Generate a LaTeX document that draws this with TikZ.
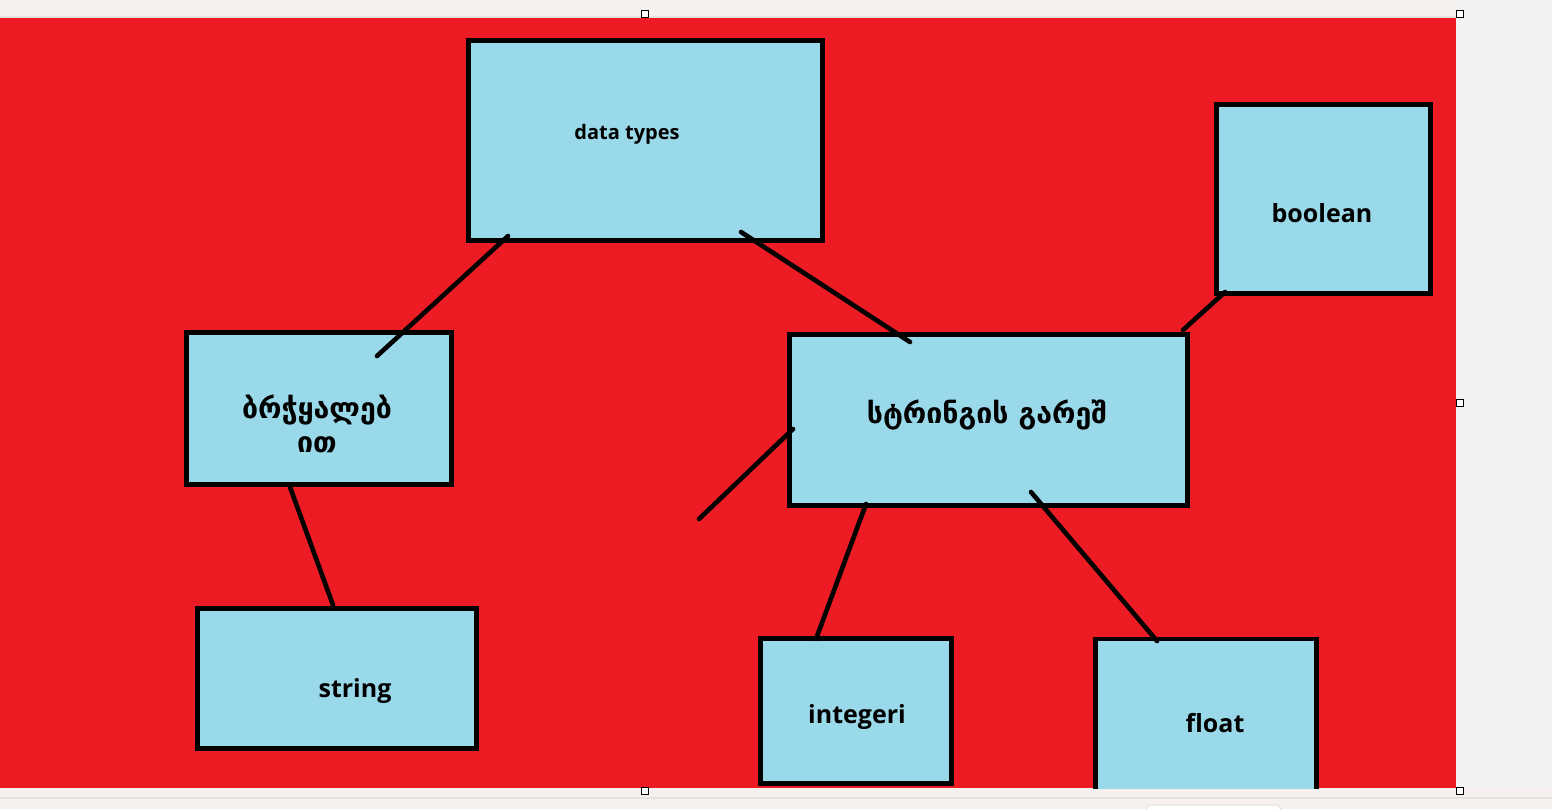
\documentclass[tikz,border=0pt]{standalone}
\usepackage{fontspec}
\setmainfont{Open Sans}
\newfontfamily\geo{DejaVu Sans}
\definecolor{paintred}{HTML}{ED1C24}
\definecolor{paintblue}{HTML}{99D9EA}
\definecolor{outergrey}{HTML}{F2F2F2}
\definecolor{stripgrey}{HTML}{F6F0EE}
\definecolor{edgegrey}{HTML}{E6E2E0}
\begin{document}
\begin{tikzpicture}[x=1pt,y=-1pt,
  box/.style={draw=black, line width=4.6pt, fill=paintblue, rectangle, inner sep=0pt},
  lbl/.style={font=\bfseries, text=black, inner sep=0pt},
  conn/.style={draw=black, line width=4.6pt, line cap=round},
  handle/.style={draw=black, line width=1.3pt, fill=white, minimum size=7pt, inner sep=0pt, rectangle}]
\useasboundingbox (0,0) rectangle (1552,809);
% backgrounds
\fill[outergrey] (0,0) rectangle (1552,809);
\fill[stripgrey] (0,0) rectangle (1456,18);
\fill[edgegrey] (0,16) rectangle (1456,18);
\fill[stripgrey] (0,788) rectangle (1552,809);
\fill[edgegrey] (0,797) rectangle (1552,798.5);
\draw[edgegrey, fill=white, line width=1pt, rounded corners=5pt] (1146,805) rectangle (1281,815);
\fill[paintred] (0,18) rectangle (1456,788);
\begin{scope}
\clip (0,18) rectangle (1456,788);
% boxes
\node[box, minimum width=354pt, minimum height=200pt] (dt) at (645.5,140.5) {};
\node[box, minimum width=214pt, minimum height=189pt] (bo) at (1323.5,199) {};
\node[box, minimum width=265pt, minimum height=152pt] (br) at (319,408.5) {};
\node[box, minimum width=398pt, minimum height=171pt] (sg) at (988.5,420) {};
\node[box, minimum width=279pt, minimum height=140pt] (st) at (337,678.5) {};
\node[box, minimum width=191pt, minimum height=145pt] (in) at (856,711) {};
\node[box, minimum width=221pt, minimum height=165pt] (fl) at (1206,721.5) {};
% labels
\node[lbl, font=\bfseries\fontsize{20}{24}\selectfont] (tdt) at (627,134) {data types};
\node[lbl, font=\bfseries\fontsize{25}{29}\selectfont] (tbo) at (1322,213) {boolean};
\node[lbl, font=\geo\bfseries\fontsize{28.5}{34}\selectfont, align=center] (tbr) at (317,424) {ბრჭყალებ\\ით};
\node[lbl, font=\geo\bfseries\fontsize{28.5}{32}\selectfont] (tsg) at (987,415) {სტრინგის გარეშ};
\node[lbl, font=\bfseries\fontsize{25}{29}\selectfont] (tst) at (355,691) {string};
\node[lbl, font=\bfseries\fontsize{25}{29}\selectfont] (tin) at (857,717) {integeri};
\node[lbl, font=\bfseries\fontsize{25}{29}\selectfont] (tfl) at (1215,723) {float};
% connector end points
\coordinate (a1) at (508,236); \coordinate (a2) at (377,356);
\coordinate (b1) at (741,232); \coordinate (b2) at (910,342);
\coordinate (c1) at (1225,292); \coordinate (c2) at (1183,330);
\coordinate (d1) at (793,429); \coordinate (d2) at (699,519);
\coordinate (e1) at (290,487); \coordinate (e2) at (333,605);
\coordinate (f1) at (866,504); \coordinate (f2) at (816,639);
\coordinate (g1) at (1031,492); \coordinate (g2) at (1157,641);
\draw[conn] (a1) -- (a2);
\draw[conn] (b1) -- (b2);
\draw[conn] (c1) -- (c2);
\draw[conn] (d1) -- (d2);
\draw[conn] (e1) -- (e2);
\draw[conn] (f1) -- (f2);
\draw[conn] (g1) -- (g2);
\end{scope}
% selection handles
\node[handle] (h1) at (645,14) {};
\node[handle] (h2) at (1460,14) {};
\node[handle] (h3) at (1460,403) {};
\node[handle] (h4) at (1460,791) {};
\node[handle] (h5) at (645,791) {};
\end{tikzpicture}
\end{document}
